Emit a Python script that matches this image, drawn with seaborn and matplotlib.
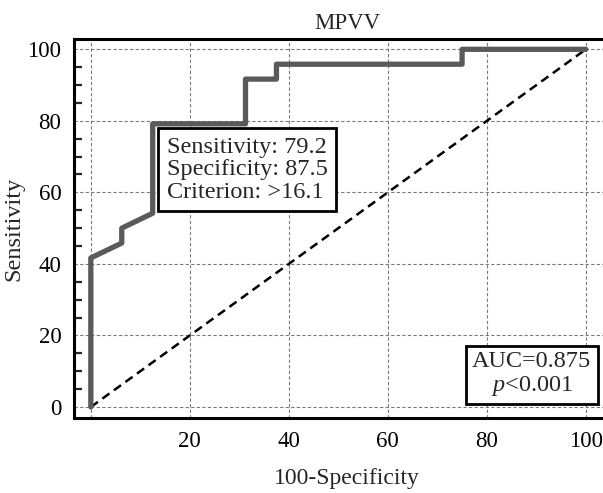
import matplotlib
matplotlib.use("Agg")
import matplotlib.pyplot as plt
import seaborn as sns
import pandas as pd
from matplotlib.ticker import MultipleLocator

# ROC curve points (100-Specificity, Sensitivity)
fpr = [0, 0, 6.25, 6.25, 12.5, 12.5, 31.25, 31.25, 37.5, 37.5, 75, 75, 100]
tpr = [0, 41.67, 45.83, 50.0, 54.17, 79.17, 79.17, 91.67, 91.67, 95.83, 95.83, 100, 100]
diag_x = [0, 100]
diag_y = [0, 100]
x_ticks = [0, 20, 40, 60, 80, 100]
x_labels = ["", "20", "40", "60", "80", "100"]
y_ticks = [0, 20, 40, 60, 80, 100]
title = "MPVV"
info_text = "Sensitivity: 79.2\nSpecificity: 87.5\nCriterion: >16.1"
auc_text = "AUC=0.875\n$\\mathit{p}$<0.001"

sns.set_theme(style="white")
plt.rcParams["font.family"] = ["Liberation Serif", "DejaVu Serif"]
plt.rcParams["mathtext.fontset"] = "custom"
plt.rcParams["mathtext.it"] = "Liberation Serif:italic"
plt.rcParams["mathtext.rm"] = "Liberation Serif"

fig = plt.figure(figsize=(6.03, 4.93), dpi=100)
# axes extends slightly past the right edge (reference appears cropped)
ax = fig.add_axes([0.1227, 0.152, 0.9055, 0.769])

roc = pd.DataFrame({"x": fpr, "y": tpr})
dg = pd.DataFrame({"x": diag_x, "y": diag_y})
sns.lineplot(data=dg, x="x", y="y", ax=ax, color="black", lw=1.8,
             linestyle=(0, (3.5, 2.2)), estimator=None, sort=False, zorder=3)
sns.lineplot(data=roc, x="x", y="y", ax=ax, color="#5a5a5a", lw=3.8,
             estimator=None, sort=False, zorder=4)

ax.set_xlim(-3.4, 106.9)
ax.set_ylim(-3.1, 102.9)
ax.set_xticks(x_ticks)
ax.set_xticklabels(x_labels)
ax.set_yticks(y_ticks)
ax.yaxis.set_minor_locator(MultipleLocator(5))
ax.tick_params(axis="both", which="major", direction="in", labelsize=16.5,
               width=1.6, color="black", labelcolor="black")
ax.tick_params(axis="y", which="major", length=10, pad=9)
ax.tick_params(axis="x", which="major", length=8, pad=9)
ax.tick_params(axis="y", which="minor", direction="in", length=6, width=1.6, left=True)
ax.grid(True, which="major", color="#7a7a7a", linestyle=(0, (3, 2)), lw=0.8)
for s in ax.spines.values():
    s.set_color("black")
    s.set_linewidth(2.2)

ax.set_title(title, fontsize=16.5, pad=7)
ax.set_xlabel("100-Specificity", fontsize=17, labelpad=12)
ax.set_ylabel("Sensitivity", fontsize=17.5, labelpad=2)

ax.text(15.3, 75.5, info_text, fontsize=17.5, va="top", ha="left", zorder=6,
        linespacing=1.08,
        bbox=dict(boxstyle="square,pad=0.35", fc="white", ec="black", lw=2))
ax.text(89.1, 9.2, auc_text, fontsize=17.5, va="center", ha="center", zorder=6,
        linespacing=1.12,
        bbox=dict(boxstyle="square,pad=0.25", fc="white", ec="black", lw=2))

fig.savefig("out.png", dpi=100)
